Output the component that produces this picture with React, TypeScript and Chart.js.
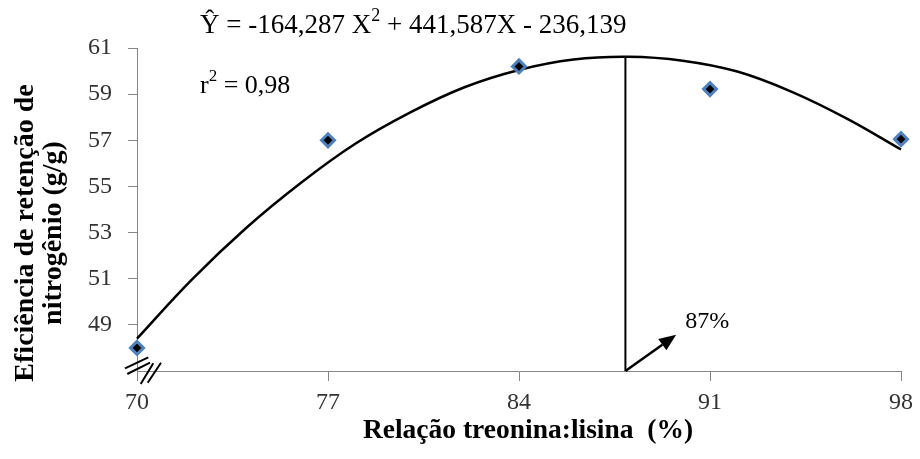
import React, { useEffect, useRef } from "react";
import { Chart, registerables } from "chart.js";

Chart.register(...registerables);

// ---- data ----
const X_TICKS = [70, 77, 84, 91, 98];
const Y_TICKS = [49, 51, 53, 55, 57, 59, 61];
const OBS_X = [70, 77, 84, 91, 98];
const OBS_Y = [48.0, 57.0, 60.2, 59.22, 57.05];
const CURVE_X = [70, 72, 74, 76, 78, 80, 82, 84, 86, 88, 90, 92, 94, 96, 98];
const CURVE_Y = [48.4, 50.95, 53.2, 55.15, 56.85, 58.2, 59.3, 60.05, 60.5, 60.62, 60.45, 59.98, 59.1, 57.95, 56.6];
const OPT_X = 87.9;
const OPT_Y = 60.61;
const ARROW_TIP = [89.76, 48.57];
const OPT_LABEL = "87%";
const OPT_LABEL_POS = [90.09, 48.87];
const EQ_PARTS = ["\u0176 = -164,287 X", "2", " + 441,587X - 236,139"];
const R2_PARTS = ["r", "2", " = 0,98"];
const X_TITLE = "Relação treonina:lisina  (%)";
const Y_TITLE = ["Eficiência de retenção de", "nitrogênio (g/g)"];

const SERIF = "'Liberation Serif', 'Times New Roman', serif";

function drawSupText(ctx: CanvasRenderingContext2D, parts: string[], x: number, y: number, size: number) {
  let cx = x;
  parts.forEach((p, i) => {
    const sup = i % 2 === 1;
    ctx.font = `${sup ? Math.round(size * 0.65) : size}px ${SERIF}`;
    ctx.fillText(p, cx, sup ? y - 12 : y);
    cx += ctx.measureText(p).width;
  });
}

const annotPlugin = {
  id: "annot",
  afterDraw(chart: any) {
    const { ctx, scales, chartArea } = chart;
    const xs = scales.x;
    const ys = scales.y;
    ctx.save();
    ctx.fillStyle = "#000";
    ctx.strokeStyle = "#000";
    ctx.textAlign = "left";
    ctx.textBaseline = "alphabetic";

    // equation and r2
    drawSupText(ctx, EQ_PARTS, 200, 33, 27);
    drawSupText(ctx, R2_PARTS, 200, 93, 26);

    // optimum vertical line
    const px = xs.getPixelForValue(OPT_X);
    ctx.lineWidth = 2;
    ctx.beginPath();
    ctx.moveTo(px, chartArea.bottom);
    ctx.lineTo(px, ys.getPixelForValue(OPT_Y));
    ctx.stroke();

    // arrow
    const tx = xs.getPixelForValue(ARROW_TIP[0]);
    const ty = ys.getPixelForValue(ARROW_TIP[1]);
    const ang = Math.atan2(ty - chartArea.bottom, tx - px);
    const hl = 17, hw = 7;
    const bx = tx - hl * Math.cos(ang);
    const by = ty - hl * Math.sin(ang);
    ctx.lineWidth = 2.5;
    ctx.beginPath();
    ctx.moveTo(px, chartArea.bottom);
    ctx.lineTo(bx, by);
    ctx.stroke();
    ctx.beginPath();
    ctx.moveTo(tx, ty);
    ctx.lineTo(bx + hw * Math.sin(ang), by - hw * Math.cos(ang));
    ctx.lineTo(bx - hw * Math.sin(ang), by + hw * Math.cos(ang));
    ctx.closePath();
    ctx.fill();

    ctx.font = `24px ${SERIF}`;
    ctx.fillText(OPT_LABEL, xs.getPixelForValue(OPT_LABEL_POS[0]), ys.getPixelForValue(OPT_LABEL_POS[1]));

    // axis break marks
    const ox = chartArea.left;
    const oy = chartArea.bottom;
    const marks = [
      [-12, -2.7, 11.3, -13.7],
      [-9.7, 3, 13, -8.3],
      [3.7, 13, 16.3, -7.7],
      [10.7, 11.7, 24, -8.3],
    ];
    ctx.lineWidth = 2;
    marks.forEach(([a, b, c, d]) => {
      ctx.beginPath();
      ctx.moveTo(ox + a, oy + b);
      ctx.lineTo(ox + c, oy + d);
      ctx.stroke();
    });

    // axis titles
    ctx.font = `bold 27.5px ${SERIF}`;
    ctx.textAlign = "center";
    ctx.fillText(X_TITLE, 528, 438);

    ctx.font = `bold 28px ${SERIF}`;
    ctx.save();
    ctx.translate(0, 233);
    ctx.rotate(-Math.PI / 2);
    ctx.fillText(Y_TITLE[0], 0, 33);
    ctx.fillText(Y_TITLE[1], 0, 61);
    ctx.restore();

    ctx.restore();
  },
};

export default function App() {
  const ref = useRef<HTMLCanvasElement | null>(null);
  useEffect(() => {
    document.body.style.margin = "0";
    if (!ref.current) return;
    const chart = new Chart(ref.current, {
      type: "line",
      data: {
        datasets: [
          {
            type: "scatter",
            data: OBS_X.map((x, i) => ({ x, y: OBS_Y[i] })),
            pointStyle: "rectRot",
            pointRadius: 6.5,
            backgroundColor: "#000",
            borderColor: "#4f81bd",
            borderWidth: 3,
            showLine: false,
            clip: false,
            order: 0,
          } as any,
          {
            data: CURVE_X.map((x, i) => ({ x, y: CURVE_Y[i] })),
            borderColor: "#000",
            borderWidth: 2.5,
            pointRadius: 0,
            tension: 0.4,
            fill: false,
            clip: false,
            order: 1,
          } as any,
        ],
      },
      options: {
        responsive: false,
        animation: false,
        devicePixelRatio: 1,
        layout: { padding: { left: 0, top: 48, right: 15, bottom: 0 } },
        plugins: { legend: { display: false }, tooltip: { enabled: false } },
        scales: {
          x: {
            type: "linear",
            min: 70,
            max: 98,
            afterBuildTicks: (s: any) => {
              s.ticks = X_TICKS.map((v) => ({ value: v }));
            },
            afterFit: (s: any) => {
              s.height = 88;
            },
            ticks: {
              color: "#333333",
              font: { family: SERIF, size: 24 },
              padding: 7,
              maxRotation: 0,
            },
            grid: { drawOnChartArea: false, tickLength: 10, color: "#868686" },
            border: { color: "#868686", width: 1 },
          },
          y: {
            type: "linear",
            min: 47,
            max: 61,
            afterBuildTicks: (s: any) => {
              s.ticks = Y_TICKS.map((v) => ({ value: v }));
            },
            afterFit: (s: any) => {
              s.width = 137;
            },
            ticks: {
              color: "#333333",
              font: { family: SERIF, size: 24 },
              padding: 16,
            },
            grid: { drawOnChartArea: false, tickLength: 9, color: "#868686" },
            border: { color: "#868686", width: 1 },
          },
        },
      },
      plugins: [annotPlugin],
    });
    return () => chart.destroy();
  }, []);
  return (
    <div style={{ width: 920, height: 459 }}>
      <canvas ref={ref} width={920} height={459} />
    </div>
  );
}
